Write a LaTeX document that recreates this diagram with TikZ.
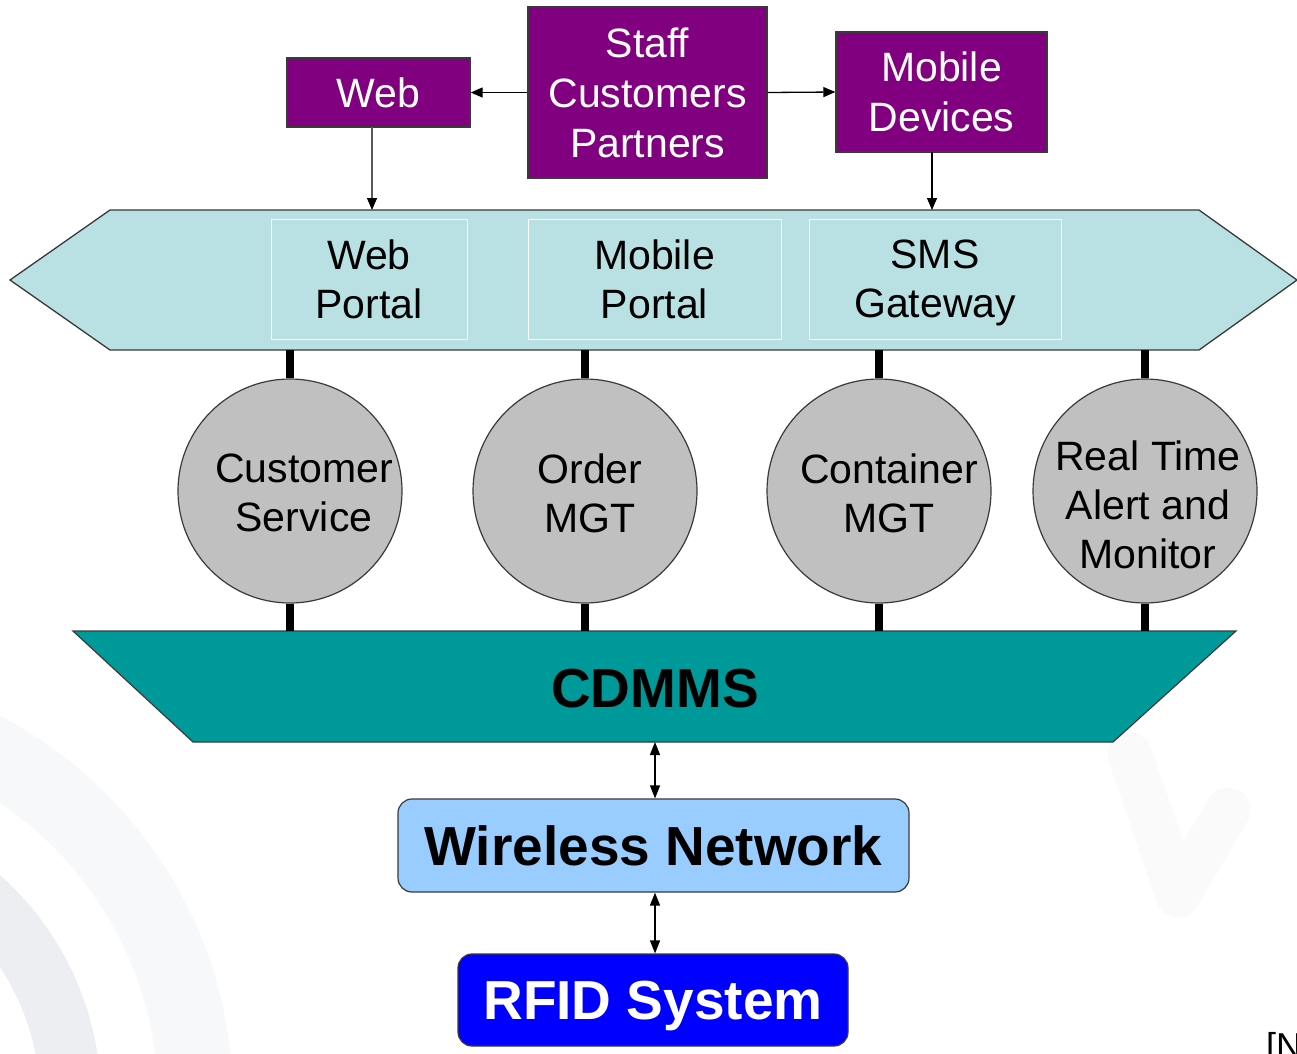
\documentclass[tikz,border=0pt]{standalone}
\usepackage{fontspec}
\setmainfont{Liberation Sans}
\usetikzlibrary{arrows.meta}
\definecolor{purp}{HTML}{800080}
\definecolor{bandc}{HTML}{B9E0E3}
\definecolor{circc}{HTML}{C0C0C0}
\definecolor{tealc}{HTML}{009999}
\definecolor{wirec}{HTML}{99CCFF}
\definecolor{rfidc}{HTML}{0000FF}
\definecolor{edgec}{HTML}{3A3A3A}
\definecolor{wmA}{HTML}{F7F8F9}
\definecolor{wmB}{HTML}{ECEEF1}
\definecolor{wmC}{HTML}{FAFAFB}
\tikzset{
  purplebox/.style={draw=edgec, line width=1.3pt, fill=purp, text=white, inner sep=0pt, align=center, font=\fontsize{41}{50}\selectfont},
  portalbox/.style={draw=white, line width=1pt, fill=bandc, inner sep=0pt, align=center, text depth=0pt, font=\fontsize{41}{49}\selectfont},
  svc/.style={circle, draw=edgec, line width=1.2pt, fill=circc, minimum size=224pt, inner sep=0pt},
  svctext/.style={align=center, inner sep=0pt, font=\fontsize{41}{49}\selectfont},
  arr/.style={line width=1.3pt, -{Triangle[length=12pt,width=10pt,color=black]}},
  dbl/.style={line width=1.3pt, {Triangle[length=13pt,width=10pt]}-{Triangle[length=13pt,width=10pt]}},
  thickconn/.style={line width=8pt, black},
  bigtext/.style={inner sep=0pt, text depth=0pt, font=\bfseries\fontsize{55}{60}\selectfont}
}
\begin{document}
\begin{tikzpicture}[x=1pt,y=-1pt]
\useasboundingbox (0,0) rectangle (1297,1053);
\clip (0,0) rectangle (1297,1053);
% watermark
\fill[wmA, even odd rule] (-200,1100) circle (433) (-200,1100) circle (358);
\fill[wmB, even odd rule] (-200,1100) circle (301) (-200,1100) circle (240);
\draw[wmC, line width=45pt, line cap=round, line join=round] (1130,755) -- (1178,895) -- (1228,810);

% top boxes
\node[purplebox, minimum width=183pt, minimum height=69pt] (web) at (378.5,92.5) {Web};
\node[purplebox, minimum width=239pt, minimum height=171pt] (staff) at (647.5,92.5) {Staff\\Customers\\Partners};
\node[purplebox, minimum width=211pt, minimum height=120pt] (mob) at (941.5,92) {Mobile\\Devices};

% band
\draw[edgec, line width=1.3pt, fill=bandc] (10,280) -- (110,210) -- (1199,210) -- (1297,280) -- (1199,350) -- (110,350) -- cycle;
\coordinate (bandtop) at (0,210);
\coordinate (bandbot) at (0,350);
\node[portalbox, minimum width=196pt, minimum height=120pt] (wp) at (369,279) {Web\\Portal};
\node[portalbox, minimum width=253pt, minimum height=120pt] (mp) at (654.5,279) {Mobile\\Portal};
\node[portalbox, minimum width=252pt, minimum height=120pt] (sms) at (935,279) {SMS\\Gateway};

\draw[arr] (staff.west) -- (web.east);
\draw[arr] (staff.east) -- (mob.west);
\draw[arr, draw=black!65] (372,127) coordinate (webb) -- (webb |- bandtop);
\draw[arr] (932,152) coordinate (mobb) -- (mobb |- bandtop);

% CDMMS
\draw[edgec, line width=1.2pt, fill=tealc] (73,631) -- (1236,631) -- (1113,742) -- (193,742) -- cycle;
\coordinate (cdtop) at (0,631);
\coordinate (cdbot) at (655,742);
\node[bigtext] (cdmms) at (655,688) {CDMMS};

% services
\node[svc] (cs) at (290,491) {};
\node[svc] (om) at (585,491) {};
\node[svc] (cm) at (879,491) {};
\node[svc] (rt) at (1145,491) {};
\node[svctext] (cst) at (304,493) {Customer\\Service};
\node[svctext] (omt) at (590,493) {Order\\MGT};
\node[svctext] (cmt) at (889,493) {Container\\MGT};
\node[svctext] (rtt) at (1148,505) {Real Time\\Alert and\\Monitor};
\foreach \n in {cs,om,cm,rt}{
  \draw[thickconn] (\n.north |- bandbot) -- (\n.north);
  \draw[thickconn] (\n.south) -- (\n.south |- cdtop);
}

% bottom
\node[draw=edgec, line width=1.2pt, fill=wirec, rounded corners=14pt, minimum width=511pt, minimum height=93pt, bigtext] (wn) at (653.5,845.5) {Wireless Network};
\node[draw=edgec, line width=1.2pt, fill=rfidc, text=white, rounded corners=14pt, minimum width=390pt, minimum height=92pt, bigtext] (rf) at (653,1000) {RFID System};
\draw[dbl] (cdbot) -- (cdbot |- wn.north);
\draw[dbl] (wn.south -| cdbot) -- (rf.north -| cdbot);

\node[anchor=base west, inner sep=0pt, font=\fontsize{36}{40}\selectfont] (note) at (1266,1058) {[N};
\end{tikzpicture}
\end{document}
